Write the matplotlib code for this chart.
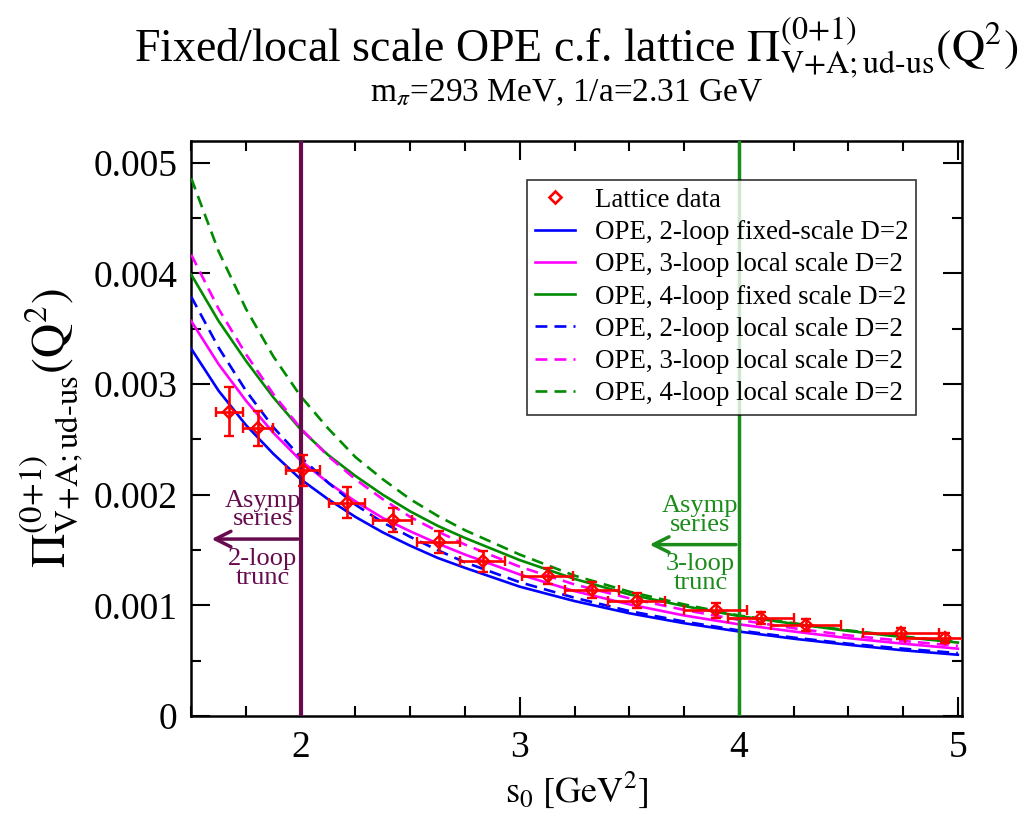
import matplotlib
matplotlib.use("Agg")
import matplotlib.pyplot as plt
from matplotlib.lines import Line2D
import numpy as np

plt.rcParams['font.family'] = ['Liberation Serif', 'DejaVu Serif']
plt.rcParams['mathtext.fontset'] = 'stix'

# lattice data (s0 in GeV^2, Pi in units of 1e-3)
s_lat = [1.673, 1.805, 2.01, 2.21, 2.42, 2.63, 2.83, 3.127, 3.33, 3.535,
         3.895, 4.10, 4.305, 4.74, 4.94]
pi_lat = [2.75, 2.60, 2.22, 1.93, 1.77, 1.57, 1.40, 1.27, 1.14, 1.045,
          0.955, 0.883, 0.82, 0.748, 0.703]
s_err = [0.062, 0.067, 0.076, 0.082, 0.089, 0.097, 0.103, 0.116, 0.123, 0.13,
         0.144, 0.15, 0.16, 0.174, 0.18]
pi_err = [0.22, 0.158, 0.144, 0.144, 0.108, 0.099, 0.096, 0.072, 0.072, 0.069,
          0.068, 0.054, 0.054, 0.051, 0.045]

# OPE curves (units of 1e-3)
s_ope = [1.5, 1.625, 1.75, 1.875, 2.0, 2.125, 2.25, 2.375, 2.5, 2.625, 2.75,
         3.0, 3.25, 3.5, 3.75, 4.0, 4.25, 4.5, 4.75, 5.0]
ope_2l_fixed = [3.32, 2.94, 2.63, 2.37, 2.14, 1.96, 1.80, 1.66, 1.54, 1.43, 1.34,
                1.17, 1.04, 0.93, 0.84, 0.765, 0.70, 0.645, 0.595, 0.555]
ope_3l_local = [3.57, 3.18, 2.85, 2.56, 2.31, 2.11, 1.94, 1.79, 1.67, 1.56, 1.46,
                1.28, 1.13, 1.01, 0.91, 0.83, 0.765, 0.705, 0.655, 0.61]
ope_4l_fixed = [3.99, 3.57, 3.21, 2.88, 2.59, 2.36, 2.17, 2.00, 1.85, 1.72, 1.61,
                1.41, 1.24, 1.10, 0.995, 0.905, 0.835, 0.77, 0.715, 0.665]
ope_2l_local = [3.79, 3.33, 2.94, 2.61, 2.34, 2.11, 1.91, 1.75, 1.62, 1.50, 1.39,
                1.21, 1.07, 0.95, 0.855, 0.775, 0.71, 0.655, 0.61, 0.57]
ope_3l_local_d = [4.17, 3.68, 3.27, 2.91, 2.60, 2.35, 2.14, 1.96, 1.80, 1.67, 1.55,
                  1.35, 1.19, 1.065, 0.96, 0.87, 0.795, 0.73, 0.68, 0.635]
ope_4l_local = [4.86, 4.20, 3.68, 3.25, 2.89, 2.60, 2.34, 2.14, 1.96, 1.81, 1.68,
                1.46, 1.27, 1.125, 1.01, 0.91, 0.84, 0.775, 0.72, 0.67]

curves = [
    (ope_2l_fixed, '#0000ff', '-', 'OPE, 2-loop fixed-scale D=2'),
    (ope_3l_local, '#ff00ff', '-', 'OPE, 3-loop local scale D=2'),
    (ope_4l_fixed, '#008b00', '-', 'OPE, 4-loop fixed scale D=2'),
    (ope_2l_local, '#0000ff', '--', 'OPE, 2-loop local scale D=2'),
    (ope_3l_local_d, '#ff00ff', '--', 'OPE, 3-loop local scale D=2'),
    (ope_4l_local, '#008b00', '--', 'OPE, 4-loop local scale D=2'),
]

purple = '#670b4f'
vgreen = '#1a8c1a'

fig = plt.figure(figsize=(10.28, 8.27), dpi=100)
ax = fig.add_axes([0.186, 0.134, 0.750, 0.696])

s_arr = np.array(s_ope)
handles = []
for vals, col, ls, lab in curves:
    ln, = ax.plot(s_arr, np.array(vals) * 1e-3, color=col, ls=ls, lw=1.9,
                  label=lab, zorder=3)
    if ls == '--':
        ln.set_dashes((4.5, 2.7))
    handles.append(ln)

ax.errorbar(np.array(s_lat), np.array(pi_lat) * 1e-3,
            xerr=s_err, yerr=np.array(pi_err) * 1e-3,
            fmt='D', color='red', mfc='none', mec='red', ms=6, mew=1.7,
            elinewidth=1.9, capsize=3.5, capthick=1.9, zorder=5)
lat_handle = Line2D([], [], ls='none', marker='D', mfc='none', mec='red', ms=6, mew=1.9)

# vertical lines
ax.axvline(2.0, color=purple, lw=3, zorder=4)
ax.axvline(4.0, color=vgreen, lw=2.5, zorder=4)

# annotations
ax.annotate('', xy=(1.58, 1.60e-3), xytext=(2.0, 1.60e-3),
            arrowprops=dict(arrowstyle='->', color=purple, lw=2.5, mutation_scale=28))
ax.text(1.827, 1.68e-3, 'Asymp\nseries', color=purple, fontsize=19,
        ha='center', va='bottom', linespacing=0.8)
ax.text(1.827, 1.52e-3, '2-loop\ntrunc', color=purple, fontsize=19,
        ha='center', va='top', linespacing=0.8)
ax.annotate('', xy=(3.58, 1.55e-3), xytext=(4.0, 1.55e-3),
            arrowprops=dict(arrowstyle='->', color=vgreen, lw=2.5, mutation_scale=28))
ax.text(3.825, 1.63e-3, 'Asymp\nseries', color=vgreen, fontsize=19,
        ha='center', va='bottom', linespacing=0.8)
ax.text(3.825, 1.47e-3, '3-loop\ntrunc', color=vgreen, fontsize=19,
        ha='center', va='top', linespacing=0.8)

ax.set_xlim(1.5, 5.02)
ax.set_ylim(0, 0.0052)
ax.set_xticks([2, 3, 4, 5])
ax.set_xticks(np.arange(1.5, 5.01, 0.25), minor=True)
ax.set_yticks([0, 0.001, 0.002, 0.003, 0.004, 0.005])
ax.set_yticklabels(['0', '0.001', '0.002', '0.003', '0.004', '0.005'])
ax.set_yticks(np.arange(0, 0.00521, 0.0005), minor=True)
ax.tick_params(which='both', direction='in', top=True, right=True, labelsize=27,
               width=1.5)
ax.tick_params(which='major', length=14)
ax.tick_params(which='minor', length=7)
ax.tick_params(axis='x', pad=10)
ax.tick_params(axis='y', pad=10)
for sp in ax.spines.values():
    sp.set_linewidth(1.8)

ax.set_xlabel(r'$\mathrm{s_0\ [GeV^2]}$', fontsize=26)
ax.set_ylabel(r'$\Pi^{\mathrm{(0{+}1)}}_{\mathrm{V{+}A;ud\text{-}us}}\mathrm{(Q^2)}$',
              fontsize=34, labelpad=6)

fig.text(0.56, 0.925,
         r'Fixed/local scale OPE c.f. lattice $\Pi^{\mathrm{(0{+}1)}}_{\mathrm{V{+}A;ud\text{-}us}}\mathrm{(Q^2)}$',
         ha='center', va='baseline', fontsize=33)
fig.text(0.551, 0.877, r'm$_\pi$=293 MeV, 1/a=2.31 GeV', ha='center', va='baseline', fontsize=24)

leg = ax.legend([lat_handle] + handles, ['Lattice data'] + [c[3] for c in curves],
                loc='upper left', bbox_to_anchor=(0.436, 0.932), borderaxespad=0,
                fontsize=19.4, frameon=True, fancybox=False, edgecolor='black',
                handlelength=1.45, labelspacing=0.27, borderpad=0.3, handletextpad=0.75)
leg.get_frame().set_linewidth(1.2)
leg.set_zorder(6)

fig.savefig('out.png', dpi=100)
